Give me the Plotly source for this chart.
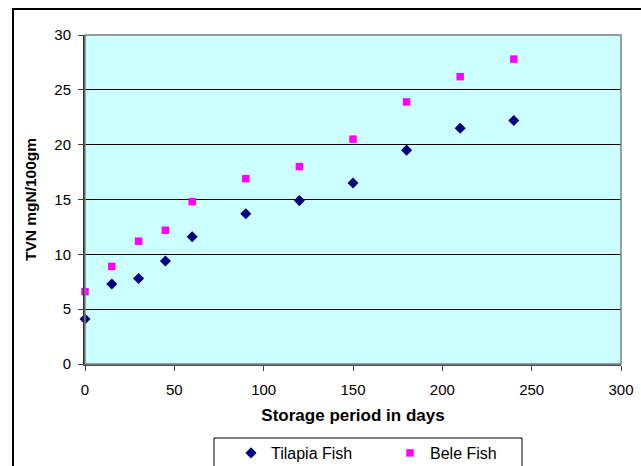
import plotly.graph_objects as go

days = [0, 15, 30, 45, 60, 90, 120, 150, 180, 210, 240]
tilapia = [4.1, 7.3, 7.8, 9.4, 11.6, 13.7, 14.9, 16.5, 19.5, 21.5, 22.2]
bele = [6.6, 8.9, 11.2, 12.2, 14.8, 16.9, 18.0, 20.5, 23.9, 26.2, 27.8]
series_names = ["Tilapia Fish", "Bele Fish"]

W, H = 641, 466
L, R, T, B = 85, 20, 35, 102
pw, ph = W - L - R, H - T - B

font = "Liberation Sans, Arial, sans-serif"

fig = go.Figure()
fig.add_trace(go.Scatter(x=days, y=tilapia, mode="markers", name=series_names[0], cliponaxis=False,
                         marker=dict(symbol="diamond", size=8.5, color="#000080")))
fig.add_trace(go.Scatter(x=days, y=bele, mode="markers", name=series_names[1], cliponaxis=False,
                         marker=dict(symbol="square", size=7.5, color="#FF00FF")))

def px_x(x):
    return (x - L) / pw

def px_y(y):
    return (H - B - y) / ph

fig.update_layout(
    width=W, height=H,
    margin=dict(l=L, r=R, t=T, b=B, autoexpand=False),
    paper_bgcolor="white",
    plot_bgcolor="#CCFFFF",
    font=dict(family=font, size=15, color="black"),
    showlegend=True,
    legend=dict(orientation="h", x=px_x(231), y=px_y(436), xanchor="left", yanchor="top",
                borderwidth=0, bgcolor="rgba(0,0,0,0)",
                font=dict(size=16), entrywidth=114, itemwidth=30),
    xaxis=dict(range=[0, 300], tickvals=[0, 50, 100, 150, 200, 250, 300],
               showgrid=False, zeroline=False, showline=True, linecolor="#505050", linewidth=2,
               ticks="outside", ticklen=5, tickcolor="#404040", mirror=False,
               ticklabelstandoff=6, tickfont=dict(size=15),
               title=dict(text="<b>Storage period in days</b>", font=dict(size=17), standoff=12)),
    yaxis=dict(range=[0, 30], tickvals=[0, 5, 10, 15, 20, 25, 30],
               showgrid=True, gridcolor="black", gridwidth=1, zeroline=False,
               showline=True, linecolor="#303030", linewidth=2,
               ticks="outside", ticklen=5, tickcolor="#404040",
               ticklabelstandoff=4, tickfont=dict(size=15),
               title=dict(text="<b>TVN mgN/100gm</b>", font=dict(size=15.5), standoff=14)),
    shapes=[
        dict(type="rect", xref="paper", yref="paper", x0=0, x1=1, y0=0, y1=1,
             line=dict(color="#808080", width=1.5), fillcolor="rgba(0,0,0,0)", layer="above"),
        dict(type="rect", xref="paper", yref="paper", x0=px_x(13), x1=px_x(660),
             y0=px_y(480), y1=px_y(9), line=dict(color="black", width=2),
             fillcolor="rgba(0,0,0,0)"),
        dict(type="rect", xref="paper", yref="paper", x0=px_x(214), x1=px_x(522),
             y0=px_y(480), y1=px_y(438), line=dict(color="black", width=1),
             fillcolor="white", layer="below"),
    ],
)

fig.write_html("out.html")
